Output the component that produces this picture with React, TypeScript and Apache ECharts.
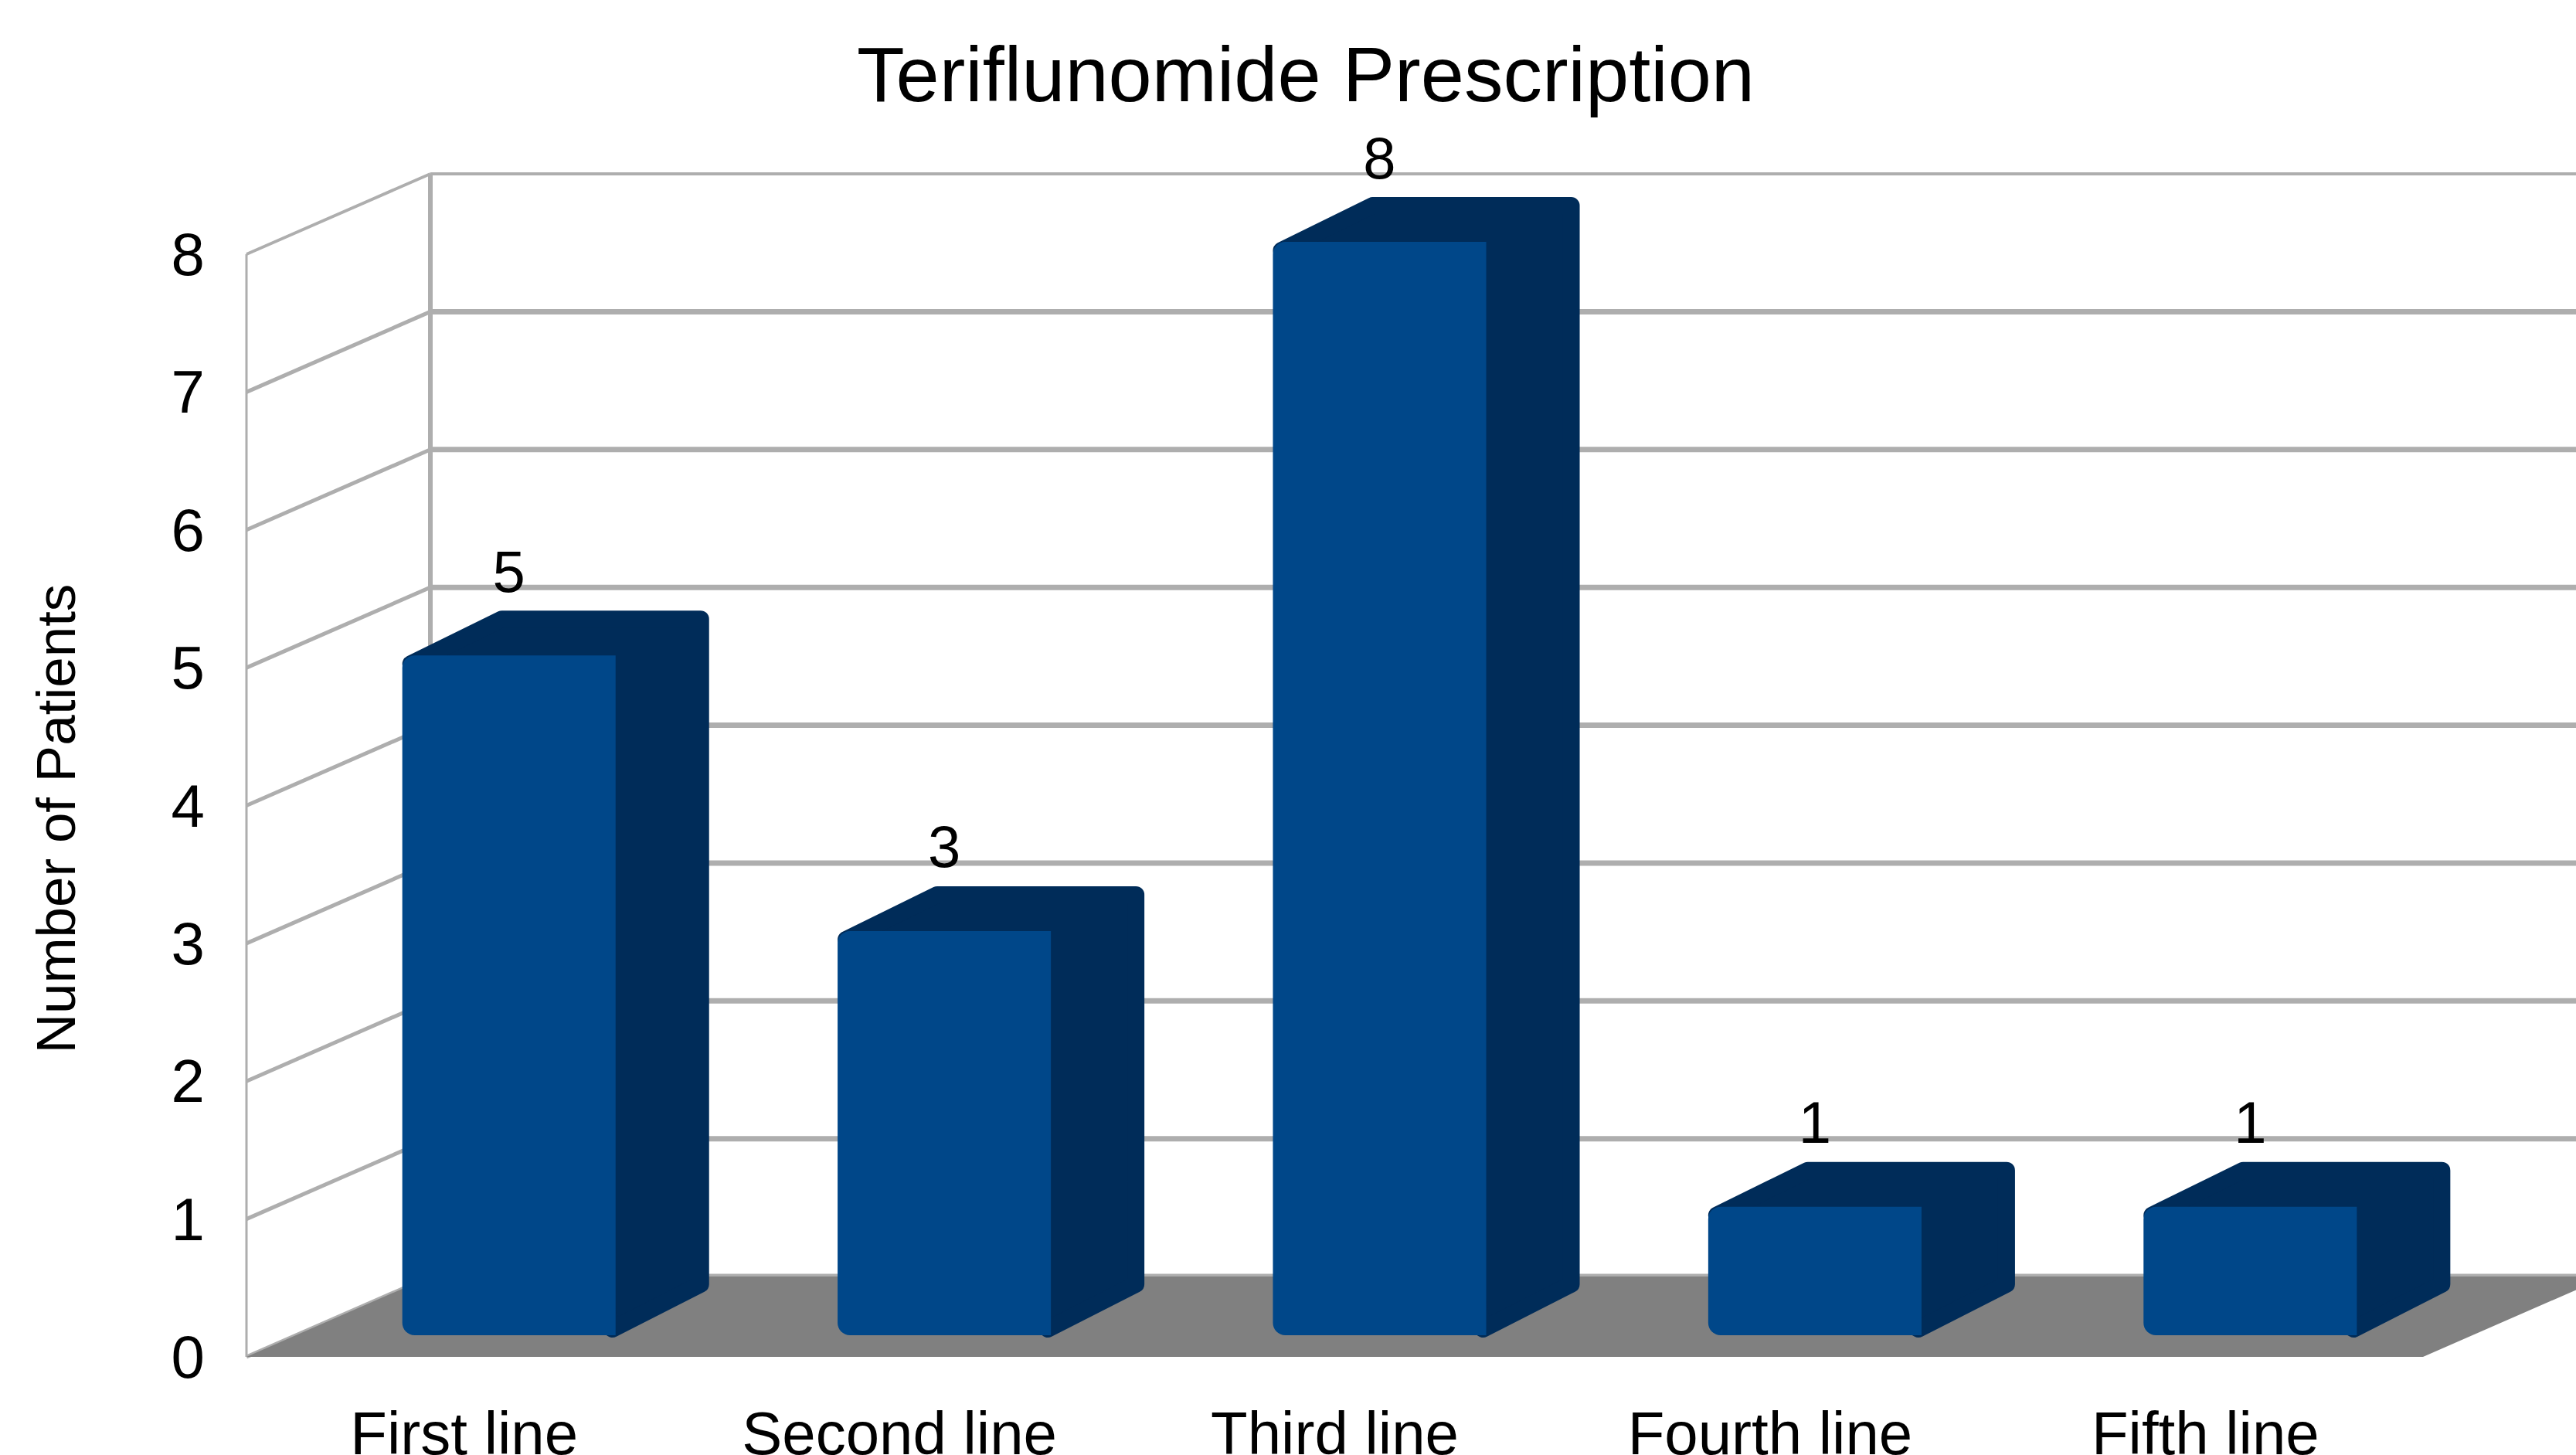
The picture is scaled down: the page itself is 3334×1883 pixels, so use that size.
import React, { useEffect, useRef } from "react";
import * as echarts from "echarts";

const titleText = "Teriflunomide Prescription";
const yAxisName = "Number of Patients";
const categories = ["First line", "Second line", "Third line", "Fourth line", "Fifth line"];
const patients = [5, 3, 8, 1, 1];
const yTicks = [0, 1, 2, 3, 4, 5, 6, 7, 8];

const FONT = "'Liberation Sans', Arial, sans-serif";
const WALL_DX = 238;
const WALL_DY = 104;
const GRID_COLOR = "#aeaeae";
const FLOOR_COLOR = "#808080";
const BAR_FRONT = "#004789";
const BAR_DARK = "#002c59";

export default function App() {
  const ref = useRef<HTMLDivElement>(null);

  useEffect(() => {
    const chart = echarts.init(ref.current!, undefined, { renderer: "svg" });

    const renderWall = (params: any, api: any) => {
      const cs = params.coordSys;
      const v = api.value(1);
      const y = api.coord([0, v])[1];
      const isTop = v === yTicks[yTicks.length - 1];
      const left = cs.x;
      const children: any[] = [
        {
          type: "line",
          shape: { x1: left, y1: y, x2: left + WALL_DX, y2: y - WALL_DY },
          style: { stroke: GRID_COLOR, lineWidth: isTop ? 4 : 5 },
        },
        {
          type: "line",
          shape: { x1: left + WALL_DX, y1: y - WALL_DY, x2: cs.x + cs.width + WALL_DX, y2: y - WALL_DY },
          style: { stroke: GRID_COLOR, lineWidth: isTop ? 4 : 7 },
        },
      ];
      if (isTop) {
        const y0 = api.coord([0, 0])[1];
        children.push(
          {
            type: "line",
            shape: { x1: left, y1: y, x2: left, y2: y0 },
            style: { stroke: GRID_COLOR, lineWidth: 3 },
          },
          {
            type: "line",
            shape: { x1: left + WALL_DX, y1: y - WALL_DY, x2: left + WALL_DX, y2: y0 - WALL_DY },
            style: { stroke: GRID_COLOR, lineWidth: 6 },
          }
        );
      }
      return { type: "group", children };
    };

    const renderFloor = (params: any, api: any) => {
      const cs = params.coordSys;
      const y0 = api.coord([0, 0])[1];
      return {
        type: "polygon",
        shape: {
          points: [
            [cs.x, y0],
            [cs.x + WALL_DX, y0 - WALL_DY],
            [cs.x + cs.width + WALL_DX, y0 - WALL_DY],
            [cs.x + cs.width, y0],
          ],
        },
        style: { fill: FLOOR_COLOR },
      };
    };

    const renderBar = (_params: any, api: any) => {
      const i = api.value(0);
      const v = api.value(1);
      const [cx, topY] = api.coord([i, v]);
      const y0 = api.coord([i, 0])[1];
      const w = api.size([1, 0])[0] * 0.49;
      const x1 = cx + 58 - w / 2;
      const x2 = x1 + w;
      const ty = topY - 16;
      const by = y0 - 28;
      const dx = 121;
      const dy = 58;
      return {
        type: "group",
        children: [
          {
            type: "polygon",
            shape: {
              points: [
                [x1 + 11, ty + 11],
                [x1 + dx + 8, ty - dy + 11],
                [x2 + dx - 11, ty - dy + 11],
                [x2 + dx - 11, by - dy - 8],
                [x2 - 4, by - 8],
              ],
            },
            style: { fill: BAR_DARK, stroke: BAR_DARK, lineWidth: 22, lineJoin: "round" },
          },
          {
            type: "rect",
            shape: { x: x1, y: ty, width: w, height: by - ty, r: [16, 0, 0, 16] },
            style: { fill: BAR_FRONT },
          },
          {
            type: "text",
            x: cx + 58,
            y: topY - 125,
            style: {
              text: String(v),
              font: `76px ${FONT}`,
              fill: "#000000",
              align: "center",
              verticalAlign: "middle",
            },
          },
        ],
      };
    };

    chart.setOption({
      animation: false,
      backgroundColor: "#ffffff",
      textStyle: { fontFamily: FONT },
      title: {
        text: titleText,
        left: 1685,
        top: 40,
        textAlign: "center",
        textStyle: { fontFamily: FONT, fontSize: 101, fontWeight: "normal", color: "#000000" },
      },
      grid: { left: 319, top: 329, width: 2817, height: 1427, containLabel: false, outerBoundsMode: "none" },
      xAxis: {
        type: "category",
        data: categories,
        axisLine: { show: false },
        axisTick: { show: false },
        axisLabel: { fontSize: 78, color: "#000000", fontFamily: FONT, margin: 60, interval: 0 },
        splitLine: { show: false },
      },
      yAxis: {
        type: "value",
        min: 0,
        max: 8,
        interval: 1,
        name: yAxisName,
        nameLocation: "middle",
        nameGap: 211,
        nameRotate: 90,
        nameTextStyle: { fontSize: 71, color: "#000000", fontFamily: FONT, padding: [0, 34, 0, 0] },
        axisLine: { show: false },
        axisTick: { show: false },
        axisLabel: { fontSize: 78, color: "#000000", fontFamily: FONT, margin: 54 },
        splitLine: { show: false },
      },
      series: [
        {
          type: "custom",
          name: "walls",
          z: 1,
          renderItem: renderWall,
          data: yTicks.map((t) => [0, t]),
          silent: true,
        },
        {
          type: "custom",
          name: "floor",
          z: 2,
          renderItem: renderFloor,
          data: [[0, 0]],
          silent: true,
        },
        {
          type: "custom",
          name: "Patients",
          z: 3,
          renderItem: renderBar,
          data: patients.map((v, i) => [i, v]),
        },
      ],
    });

    return () => chart.dispose();
  }, []);

  return (
    <div
      ref={ref}
      style={{ position: "absolute", left: 0, top: 0, width: 3334, height: 1883, overflow: "hidden" }}
    />
  );
}
